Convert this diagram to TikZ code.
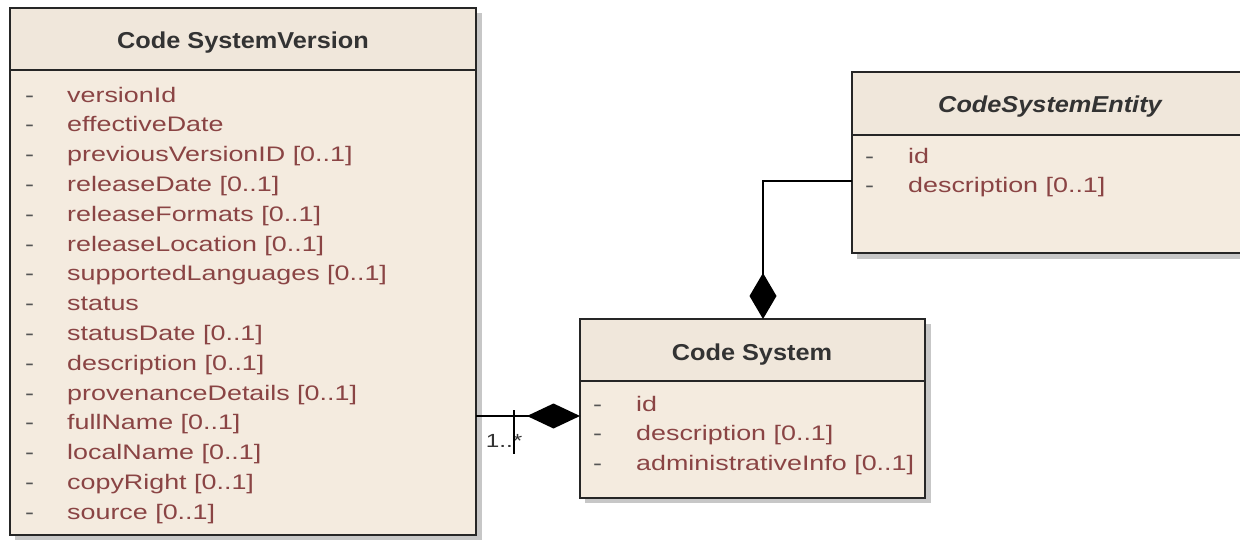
\documentclass[tikz,border=0pt]{standalone}
\usepackage{fontspec}
\setmainfont{Liberation Sans}
\newfontfamily\attrfont[FakeStretch=1.28]{Liberation Sans}
\newfontfamily\ttlfont[FakeStretch=1.1]{Liberation Sans}
\usetikzlibrary{arrows.meta}
\definecolor{boxfill}{HTML}{F4EBDF}
\definecolor{headfill}{HTML}{F0E7DB}
\definecolor{attrcol}{HTML}{8A4444}
\definecolor{dashcol}{HTML}{555555}
\definecolor{titlecol}{HTML}{333333}
\tikzset{
  classbox/.style={draw=black!85, line width=1.6pt, fill=boxfill, anchor=north west, inner sep=0pt, outer sep=0pt},
  shadowbox/.style={fill=black!22, draw=none},
  divider/.style={draw=black!85, line width=1.6pt},
  ttl/.style={font=\ttlfont\bfseries\fontsize{23}{23}\selectfont, text=titlecol, inner sep=0pt},
  attr/.style={anchor=mid west, font=\attrfont\fontsize{21}{21}\selectfont, text=attrcol, inner sep=0pt},
  dsh/.style={anchor=mid west, font=\attrfont\fontsize{21}{21}\selectfont, text=dashcol, inner sep=0pt},
  conn/.style={line width=1.6pt, draw=black},
  mult/.style={font=\attrfont\fontsize{19}{19}\selectfont, text=black!80, fill=white, inner sep=1.5pt},
}
\begin{document}
\begin{tikzpicture}[x=1pt,y=-1pt]
\useasboundingbox (0,0) rectangle (1240,540);
\fill[white] (0,0) rectangle (1240,540);

% shadows
\fill[shadowbox] (15,13) rectangle (482,541);
\fill[shadowbox] (585,324) rectangle (931,503);
\fill[shadowbox] (857,77) rectangle (1260,259);

% CodeSystemVersion
\node[classbox, minimum width=466pt, minimum height=527pt] (csv) at (10,8) {};
\fill[headfill] ([shift={(0.8pt,-0.8pt)}]csv.north west) rectangle (475.2,70);
\draw[divider] (10,70) -- (476,70);
\node[ttl] (csvt) at (243,43) {Code SystemVersion};
\foreach \t [count=\i from 0] in {versionId, effectiveDate, previousVersionID [0..1], releaseDate [0..1], releaseFormats [0..1], releaseLocation [0..1], supportedLanguages [0..1], status, statusDate [0..1], description [0..1], provenanceDetails [0..1], fullName [0..1], localName [0..1], copyRight [0..1], source [0..1]} {
  \node[dsh] (csvd\i) at (25,99.5+29.8*\i) {-};
  \node[attr] (csva\i) at (67,99.5+29.8*\i) {\t};
}

% CodeSystem
\node[classbox, minimum width=345pt, minimum height=179pt] (cs) at (580,319) {};
\fill[headfill] (580.8,319.8) rectangle (924.2,381);
\draw[divider] (580,381) -- (925,381);
\node[ttl] (cst) at (752,355) {Code System};
\foreach \t [count=\i from 0] in {id, description [0..1], administrativeInfo [0..1]} {
  \node[dsh] (csd\i) at (593,408.5+29.5*\i) {-};
  \node[attr] (csa\i) at (636,408.5+29.5*\i) {\t};
}

% CodeSystemEntity
\node[classbox, minimum width=400pt, minimum height=181pt] (cse) at (852,72) {};
\fill[headfill] (852.8,72.8) rectangle (1251,135);
\draw[divider] (852,135) -- (1252,135);
\node[ttl, font=\ttlfont\bfseries\itshape\fontsize{23}{23}\selectfont] (cset) at (1050,107) {CodeSystemEntity};
\foreach \t [count=\i from 0] in {id, description [0..1]} {
  \node[dsh] (csed\i) at (865,160.5+29.5*\i) {-};
  \node[attr] (csea\i) at (908,160.5+29.5*\i) {\t};
}

% connectors
\coordinate (a1) at (476,416);
\draw[conn, -{Diamond[length=53pt,width=25pt]}] (a1) -- (a1 -| cs.west);
\node[mult] (m1) at (504,441) {1..*};
\coordinate (tk) at (514,410);
\draw[conn, line width=1.2pt] (tk) -- ++(0,44);

\coordinate (b1) at (852,181);
\coordinate (b2) at (763,319);
\draw[conn, -{Diamond[length=46pt,width=27pt]}] (b1) -| (b2);
\end{tikzpicture}
\end{document}
